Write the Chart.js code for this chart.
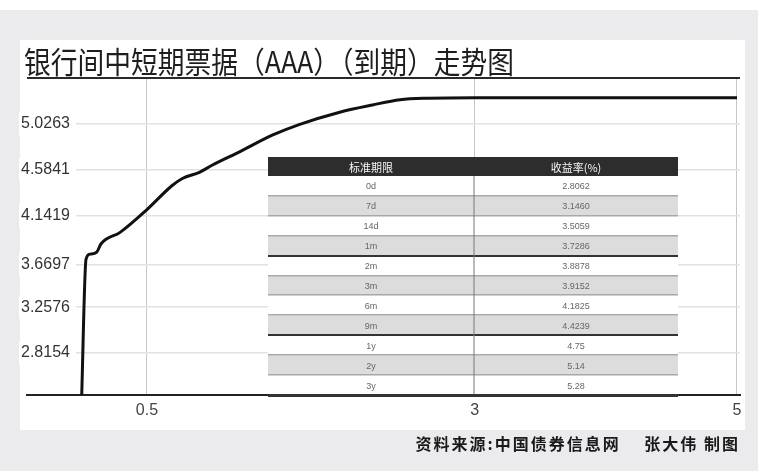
<!DOCTYPE html>
<html>
<head>
<meta charset="utf-8">
<script src="https://cdn.jsdelivr.net/npm/chart.js@4.4.1/dist/chart.umd.min.js"></script>
<style>
    html, body { margin: 0; padding: 0; background: #ebebed; }
    #wrap { width: 758px; height: 471px; }
</style>
</head>
<body>
<div id="wrap"><canvas id="myChart" width="758" height="471"></canvas></div>
<script>
(function () {

    // curve: term in years / yield
    let termYears = [0, 0.035, 0.065, 0.117, 0.15, 0.295, 0.5, 0.69, 0.77, 0.9, 1.0, 1.21, 1.46, 1.66, 1.97, 2.22, 2.43, 2.65, 3.0, 5.0];
    let yieldValues = [2.3, 3.72, 3.77, 3.79, 3.87, 3.98, 4.20, 4.43, 4.50, 4.56, 4.63, 4.76, 4.92, 5.02, 5.14, 5.21, 5.26, 5.275, 5.28, 5.28];

    let xTicks = [0.5, 3, 5];
    let yTicks = [2.8154, 3.2576, 3.6697, 4.1419, 4.5841, 5.0263];

    // table
    let tableHeader = ['标准期限', '收益率(%)'];
    let tableTerms = ['0d', '7d', '14d', '1m', '2m', '3m', '6m', '9m', '1y', '2y', '3y'];
    let tableYields = ['2.8062', '3.1460', '3.5059', '3.7286', '3.8878', '3.9152', '4.1825', '4.4239', '4.75', '5.14', '5.28'];

    let titleText = '银行间中短期票据（AAA）（到期）走势图';
    let sourceText = '资料来源:中国债券信息网　 张大伟 制图';

    let cjk = '"Noto Sans CJK SC", "Noto Sans", sans-serif';
    let latin = '"Liberation Sans", Arial, sans-serif';

    let backgroundPlugin = {
        id: 'panelBg',
        beforeDraw: function (chart) {
            let c = chart.ctx;
            c.save();
            c.fillStyle = '#ebebed';
            c.fillRect(0, 0, chart.width, chart.height);
            c.fillStyle = '#ffffff';
            c.fillRect(0, 0, chart.width, 10);
            c.fillRect(20, 40, 725, 390);
            c.restore();
        }
    };

    let overlayPlugin = {
        id: 'overlay',
        afterDatasetsDraw: function (chart) {
            let c = chart.ctx;
            let a = chart.chartArea;
            c.save();

            // title
            c.fillStyle = '#1e1e1e';
            c.font = '30px ' + cjk;
            c.textBaseline = 'middle';
            c.textAlign = 'left';
            c.fillText(titleText, 24, 62, 490);

            // title rule
            c.fillStyle = '#2a2a2a';
            c.fillRect(a.left, a.top - 1, a.right - a.left, 2);

            // table
            let tx = 268, tw = 410, top = 157, hh = 19;
            let rh = (395 - top - hh) / tableTerms.length;
            let mid = 474;
            c.fillStyle = '#2d2d2d';
            c.fillRect(tx, top, tw, hh);
            c.fillStyle = '#f4f4f4';
            c.font = '11px ' + cjk;
            c.textAlign = 'center';
            c.fillText(tableHeader[0], (tx + mid) / 2, top + hh / 2 + 1);
            c.fillText(tableHeader[1], (mid + tx + tw) / 2, top + hh / 2 + 1);

            for (let i = 0; i < tableTerms.length; i++) {
                let y = top + hh + i * rh;
                c.fillStyle = i % 2 ? '#dcdcdc' : '#ffffff';
                c.fillRect(tx, y, tw, rh);
                c.fillStyle = '#666';
                c.font = '9px ' + latin;
                c.fillText(tableTerms[i], (tx + mid) / 2, y + rh / 2 + 1);
                c.fillText(tableYields[i], (mid + tx + tw) / 2, y + rh / 2 + 1);
            }
            for (let i = 1; i < tableTerms.length; i++) {
                let y = Math.round(top + hh + i * rh);
                if (i === 4 || i === 8) {
                    c.fillStyle = '#333';
                    c.fillRect(tx, y - 1, tw, 2);
                } else {
                    c.fillStyle = '#a8a8a8';
                    c.fillRect(tx, y - 1, tw, 1.5);
                }
            }
            c.fillStyle = '#777';
            c.fillRect(mid - 0.5, top + hh, 1, 395 - top - hh);
            c.fillStyle = '#333';
            c.fillRect(tx, 394, tw, 3);

            // source
            c.fillStyle = '#1a1a1a';
            c.font = 'bold 16px ' + cjk;
            c.letterSpacing = '2px';
            c.textAlign = 'right';
            c.fillText(sourceText, 740, 444);

            c.restore();
        }
    };

    let points = termYears.map(function (t, i) {
        return { x: t, y: yieldValues[i] };
    });

    const ctx = document.getElementById('myChart');

    let chart = new Chart(ctx, {
        type: 'line',
        data: {
            datasets: [{
                label: 'AAA',
                data: points,
                borderColor: '#111',
                borderWidth: 3,
                pointRadius: 0,
                fill: false,
                cubicInterpolationMode: 'monotone'
            }]
        },
        options: {
            animation: false,
            responsive: false,
            layout: {
                padding: { left: 27, right: 18, top: 78, bottom: 40 }
            },
            plugins: {
                legend: { display: false },
                tooltip: { enabled: false }
            },
            scales: {
                x: {
                    type: 'linear',
                    min: -0.415,
                    max: 5.023,
                    afterBuildTicks: function (scale) {
                        scale.ticks = xTicks.map(function (v) { return { value: v }; });
                    },
                    afterFit: function (scale) { scale.height = 36; },
                    ticks: {
                        padding: 6,
                        color: '#444',
                        font: { family: latin, size: 16 },
                        callback: function (v) { return String(v); }
                    },
                    grid: { color: '#c6c6c6', lineWidth: 1, drawTicks: false },
                    border: { color: '#222', width: 2 }
                },
                y: {
                    min: 2.41,
                    max: 5.47,
                    afterBuildTicks: function (scale) {
                        scale.ticks = yTicks.map(function (v) { return { value: v }; });
                    },
                    afterFit: function (scale) { scale.width = 0; },
                    ticks: {
                        mirror: true,
                        padding: -6,
                        color: '#333',
                        font: { family: latin, size: 16 },
                        showLabelBackdrop: true,
                        backdropColor: '#ffffff',
                        backdropPadding: { left: 2, right: 6, top: 2, bottom: 2 },
                        callback: function (v) { return v.toFixed(4); }
                    },
                    grid: { color: '#e2e2e2', lineWidth: 1.5, drawTicks: false },
                    border: { display: false }
                }
            }
        },
        plugins: [backgroundPlugin, overlayPlugin]
    });

})();
</script>
</body>
</html>
